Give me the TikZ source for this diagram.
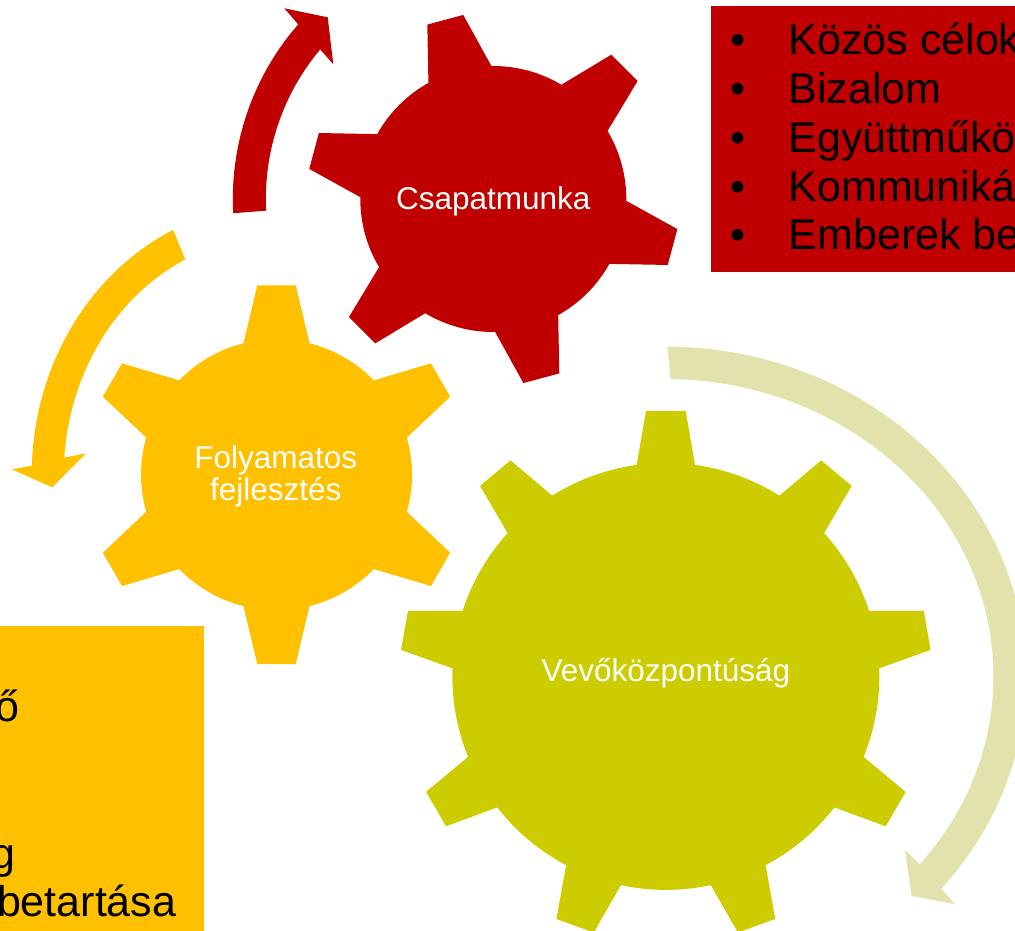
\documentclass[tikz,border=0pt]{standalone}
\usepackage{fontspec}
\setmainfont{Liberation Sans}
\usetikzlibrary{calc}
\definecolor{gearred}{HTML}{C00000}
\definecolor{gearyellow}{HTML}{FFC000}
\definecolor{gearolive}{HTML}{CCCC00}
\definecolor{arrowkhaki}{HTML}{E2E2AC}

% #1 colour, #2 centre, #3 number of teeth, #4 angle of first tooth,
% #5 tip radius, #6 tip half-angle, #7 root radius, #8 root half-angle
\newcommand{\drawgear}[8]{%
  \begin{scope}[shift={#2}]
    \pgfmathsetmacro\gstep{360/#3}
    \pgfmathtruncatemacro\glast{#3-1}
    \fill[#1] ({#4-#8}:#7)
      \foreach \i in {0,...,\glast}{
        -- ({#4+\i*\gstep-#8}:#7)
        -- ({#4+\i*\gstep-#6}:#5)
        -- ({#4+\i*\gstep+#6}:#5)
        -- ({#4+\i*\gstep+#8}:#7)
        arc[start angle={#4+\i*\gstep+#8}, end angle={#4+(\i+1)*\gstep-#8}, radius=#7]
      } -- cycle;
  \end{scope}}

\begin{document}
\begin{tikzpicture}[x=1pt,y=-1pt,
  gearlabel/.style={text=white, font=\fontsize{31.5}{32.4}\selectfont, inner sep=0pt},
  listtext/.style={text=black, font=\fontsize{43}{48.9}\selectfont, inner sep=0pt, anchor=base west},
  bulletmark/.style={text=black, font=\fontsize{43}{48.9}\selectfont, inner sep=0pt, anchor=base}]
\useasboundingbox (0,0) rectangle (1015,931);
\clip (0,0) rectangle (1015,931);

% gear centres
\coordinate (rc) at (493.3,199);
\coordinate (yc) at (276.5,474.7);
\coordinate (gc) at (665.85,676.4);

% circular arrows around the gears
\fill[gearred] ($(rc)+(176.9:260.5 and 263.5)$)
  arc[start angle=176.9, end angle=221.5, x radius=260.5, y radius=263.5]
  -- (284.3,8.3) -- (327.7,17.3) -- (333.3,64.3)
  -- ($(rc)+(220.45:227.5 and 230.5)$)
  arc[start angle=220.45, end angle=177.1, x radius=227.5, y radius=230.5] -- cycle;

\fill[gearyellow] ($(yc)+(245.0:244.8 and 270)$)
  arc[start angle=245.0, end angle=181.9, x radius=244.8, y radius=270]
  -- (11.7,469.3) -- (52.3,487.3) -- (86,453.3)
  -- ($(yc)+(184.1:212.7 and 238.4)$)
  arc[start angle=184.1, end angle=244.6, x radius=212.7, y radius=238.4] -- cycle;

\fill[arrowkhaki] ($(gc)+(-89.75:359.9 and 329.7)$)
  arc[start angle=-89.75, end angle=40.1, x radius=359.9, y radius=329.7]
  -- (955,904) -- (911.7,896) -- (905,850)
  -- ($(gc)+(39.2:327.6 and 297.4)$)
  arc[start angle=39.2, end angle=-89.15, x radius=327.6, y radius=297.4] -- cycle;

% gears
\drawgear{gearred}{(493.3,199)}{6}{-105}{186.5}{5.72}{133}{14.2}
\drawgear{gearyellow}{(276.5,474.7)}{6}{-90}{190.4}{5.79}{135.5}{14.1}
\drawgear{gearolive}{(665.85,676.4)}{9}{-90}{266.1}{4.28}{213.5}{7.85}

% gear labels
\node[gearlabel, anchor=base] (csapat) at (493.3,209.3) {Csapatmunka};
\node[gearlabel, align=center] (folyam) at (275.8,476.5) {Folyamatos\\fejlesztés};
\node[gearlabel, anchor=base] (vevo) at (665.85,681.7) {Vevőközpontúság};

% list panels
\fill[gearred] (711,6) rectangle (1030,271.7);
\fill[gearyellow] (-10,626) rectangle (204,945);

\foreach \txt [count=\k] in {Közös célok, Bizalom, Együttműkö, Kommuniká, Emberek be}{
  \node[bulletmark] (redb\k) at (737.7,{54.3+48.9*(\k-1)}) {•};
  \node[listtext] (red\k) at (788.5,{54.3+48.9*(\k-1)}) {\txt};
}

\node[listtext, anchor=base east] (yel1) at (20,721) {ő};
\node[listtext, anchor=base east] (yel2) at (16,868) {g};
\node[listtext, anchor=base east] (yel3) at (176.5,916.7) {betartása};
\end{tikzpicture}
\end{document}
